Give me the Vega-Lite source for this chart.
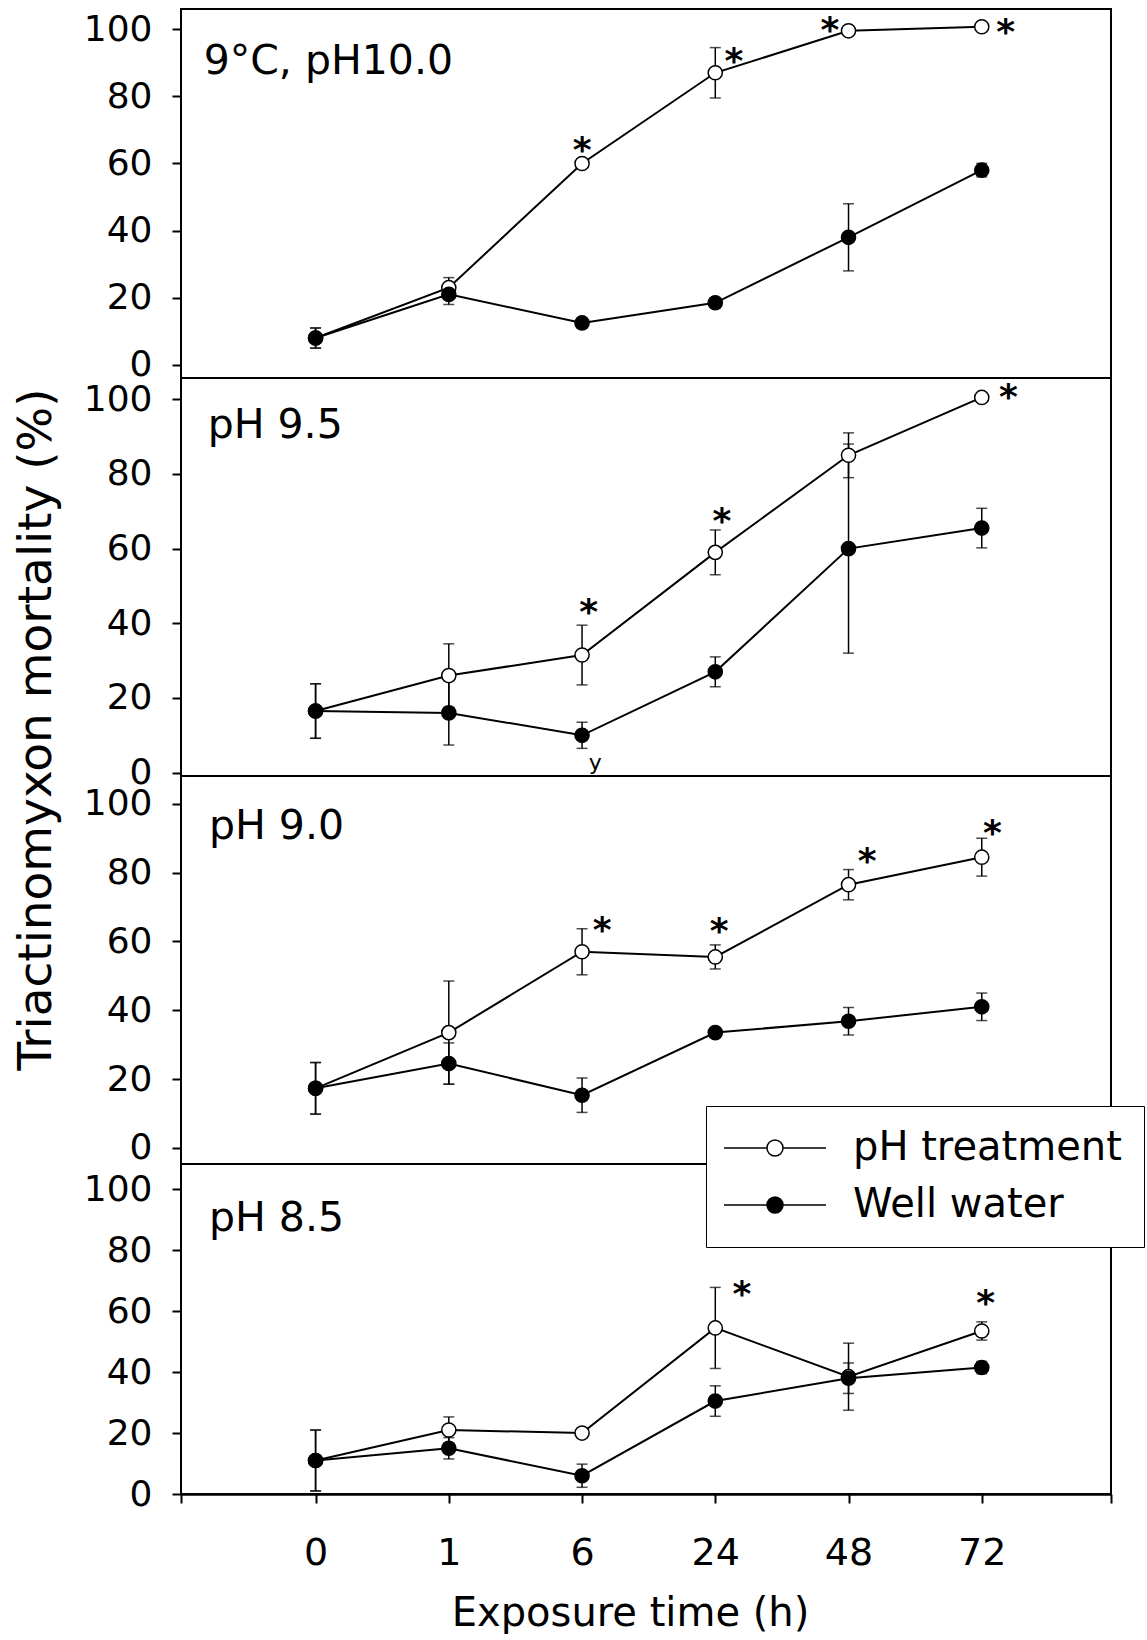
{
  "$schema": "https://vega.github.io/schema/vega-lite/v6.json",
  "padding": {"left": 10, "top": 8, "right": 0, "bottom": 0},
  "spacing": 0,
  "bounds": "flush",
  "config": {
    "font": "DejaVu Sans",
    "view": {"stroke": "black", "strokeWidth": 2},
    "axis": {"grid": false, "labelColor": "black", "tickColor": "black", "domainColor": "black", "titleColor": "black", "labelFont": "DejaVu Sans", "titleFont": "DejaVu Sans", "titleFontWeight": "normal"},
    "legend": {"labelFont": "DejaVu Sans", "labelColor": "black"}
  },
  "datasets": {
    "means": [
      {"panel": "9°C, pH10.0", "series": "pH treatment", "hour": "0", "pos": 0, "pct": 8, "se": 3},
      {"panel": "9°C, pH10.0", "series": "pH treatment", "hour": "1", "pos": 1, "pct": 23, "se": 3},
      {"panel": "9°C, pH10.0", "series": "pH treatment", "hour": "6", "pos": 2, "pct": 60, "se": 1},
      {"panel": "9°C, pH10.0", "series": "pH treatment", "hour": "24", "pos": 3, "pct": 87, "se": 7.5},
      {"panel": "9°C, pH10.0", "series": "pH treatment", "hour": "48", "pos": 4, "pct": 99.5, "se": 0.8},
      {"panel": "9°C, pH10.0", "series": "pH treatment", "hour": "72", "pos": 5, "pct": 100.7, "se": 0.5},
      {"panel": "9°C, pH10.0", "series": "Well water", "hour": "0", "pos": 0, "pct": 8, "se": 3},
      {"panel": "9°C, pH10.0", "series": "Well water", "hour": "1", "pos": 1, "pct": 21, "se": 3},
      {"panel": "9°C, pH10.0", "series": "Well water", "hour": "6", "pos": 2, "pct": 12.5, "se": 1.5},
      {"panel": "9°C, pH10.0", "series": "Well water", "hour": "24", "pos": 3, "pct": 18.5, "se": 1.5},
      {"panel": "9°C, pH10.0", "series": "Well water", "hour": "48", "pos": 4, "pct": 38, "se": 10},
      {"panel": "9°C, pH10.0", "series": "Well water", "hour": "72", "pos": 5, "pct": 58, "se": 2},
      {"panel": "pH 9.5", "series": "pH treatment", "hour": "0", "pos": 0, "pct": 16.5, "se": 7.3},
      {"panel": "pH 9.5", "series": "pH treatment", "hour": "1", "pos": 1, "pct": 26, "se": 8.5},
      {"panel": "pH 9.5", "series": "pH treatment", "hour": "6", "pos": 2, "pct": 31.5, "se": 8},
      {"panel": "pH 9.5", "series": "pH treatment", "hour": "24", "pos": 3, "pct": 59, "se": 6},
      {"panel": "pH 9.5", "series": "pH treatment", "hour": "48", "pos": 4, "pct": 85, "se": 6},
      {"panel": "pH 9.5", "series": "pH treatment", "hour": "72", "pos": 5, "pct": 100.5, "se": 0.7},
      {"panel": "pH 9.5", "series": "Well water", "hour": "0", "pos": 0, "pct": 16.5, "se": 7.3},
      {"panel": "pH 9.5", "series": "Well water", "hour": "1", "pos": 1, "pct": 16, "se": 8.6},
      {"panel": "pH 9.5", "series": "Well water", "hour": "6", "pos": 2, "pct": 10, "se": 3.5},
      {"panel": "pH 9.5", "series": "Well water", "hour": "24", "pos": 3, "pct": 27, "se": 4},
      {"panel": "pH 9.5", "series": "Well water", "hour": "48", "pos": 4, "pct": 60, "se": 28},
      {"panel": "pH 9.5", "series": "Well water", "hour": "72", "pos": 5, "pct": 65.5, "se": 5.3},
      {"panel": "pH 9.0", "series": "pH treatment", "hour": "0", "pos": 0, "pct": 17.3, "se": 7.5},
      {"panel": "pH 9.0", "series": "pH treatment", "hour": "1", "pos": 1, "pct": 33.5, "se": 15},
      {"panel": "pH 9.0", "series": "pH treatment", "hour": "6", "pos": 2, "pct": 57, "se": 6.7},
      {"panel": "pH 9.0", "series": "pH treatment", "hour": "24", "pos": 3, "pct": 55.5, "se": 3.5},
      {"panel": "pH 9.0", "series": "pH treatment", "hour": "48", "pos": 4, "pct": 76.5, "se": 4.4},
      {"panel": "pH 9.0", "series": "pH treatment", "hour": "72", "pos": 5, "pct": 84.5, "se": 5.5},
      {"panel": "pH 9.0", "series": "Well water", "hour": "0", "pos": 0, "pct": 17.3, "se": 7.5},
      {"panel": "pH 9.0", "series": "Well water", "hour": "1", "pos": 1, "pct": 24.5, "se": 6},
      {"panel": "pH 9.0", "series": "Well water", "hour": "6", "pos": 2, "pct": 15.3, "se": 5},
      {"panel": "pH 9.0", "series": "Well water", "hour": "24", "pos": 3, "pct": 33.5, "se": 0.8},
      {"panel": "pH 9.0", "series": "Well water", "hour": "48", "pos": 4, "pct": 36.8, "se": 4},
      {"panel": "pH 9.0", "series": "Well water", "hour": "72", "pos": 5, "pct": 41, "se": 4},
      {"panel": "pH 8.5", "series": "pH treatment", "hour": "0", "pos": 0, "pct": 11, "se": 10},
      {"panel": "pH 8.5", "series": "pH treatment", "hour": "1", "pos": 1, "pct": 21, "se": 4.3},
      {"panel": "pH 8.5", "series": "pH treatment", "hour": "6", "pos": 2, "pct": 20, "se": 1.5},
      {"panel": "pH 8.5", "series": "pH treatment", "hour": "24", "pos": 3, "pct": 54.5, "se": 13.3},
      {"panel": "pH 8.5", "series": "pH treatment", "hour": "48", "pos": 4, "pct": 38.5, "se": 11},
      {"panel": "pH 8.5", "series": "pH treatment", "hour": "72", "pos": 5, "pct": 53.5, "se": 3},
      {"panel": "pH 8.5", "series": "Well water", "hour": "0", "pos": 0, "pct": 11, "se": 10},
      {"panel": "pH 8.5", "series": "Well water", "hour": "1", "pos": 1, "pct": 15, "se": 3.5},
      {"panel": "pH 8.5", "series": "Well water", "hour": "6", "pos": 2, "pct": 6, "se": 3.8},
      {"panel": "pH 8.5", "series": "Well water", "hour": "24", "pos": 3, "pct": 30.5, "se": 5},
      {"panel": "pH 8.5", "series": "Well water", "hour": "48", "pos": 4, "pct": 38, "se": 5},
      {"panel": "pH 8.5", "series": "Well water", "hour": "72", "pos": 5, "pct": 41.5, "se": 2}
    ],
    "stars": [
      {"panel": "9°C, pH10.0", "pos": 2.0, "pct": 66.4},
      {"panel": "9°C, pH10.0", "pos": 3.14, "pct": 93},
      {"panel": "9°C, pH10.0", "pos": 3.86, "pct": 102},
      {"panel": "9°C, pH10.0", "pos": 5.18, "pct": 101.6},
      {"panel": "pH 9.5", "pos": 2.05, "pct": 45.1},
      {"panel": "pH 9.5", "pos": 3.05, "pct": 69.6},
      {"panel": "pH 9.5", "pos": 5.2, "pct": 102.7},
      {"panel": "pH 9.0", "pos": 2.15, "pct": 65.6},
      {"panel": "pH 9.0", "pos": 3.03, "pct": 65.4},
      {"panel": "pH 9.0", "pos": 4.14, "pct": 85.8},
      {"panel": "pH 9.0", "pos": 5.08, "pct": 93.8},
      {"panel": "pH 8.5", "pos": 3.2, "pct": 68.3},
      {"panel": "pH 8.5", "pos": 5.03, "pct": 65.3}
    ],
    "labels": [
      {"panel": "9°C, pH10.0", "pos": -0.84, "pct": 86.6},
      {"panel": "pH 9.5", "pos": -0.81, "pct": 89.7},
      {"panel": "pH 9.0", "pos": -0.8, "pct": 89.7},
      {"panel": "pH 8.5", "pos": -0.8, "pct": 86.3}
    ]
  },
  "resolve": {"scale": {"y": "independent", "fill": "shared"}, "legend": {"fill": "shared"}},
  "vconcat": [
    {
      "width": 930, "height": 369,
      "encoding": {
        "x": {"field": "pos", "type": "quantitative", "scale": {"domain": [-1.01, 5.97], "nice": false, "zero": false}, "axis": null},
        "y": {"field": "pct", "type": "quantitative", "scale": {"domain": [-3.9, 106], "nice": false, "zero": false},
              "axis": {"values": [0, 20, 40, 60, 80, 100], "title": null, "domain": false, "tickSize": 9, "tickWidth": 2, "labelFontSize": 36, "labelPadding": 20}}
      },
      "layer": [
        {"data": {"name": "means"}, "transform": [{"filter": "datum.panel === '9°C, pH10.0'"}],
         "mark": {"type": "errorbar", "color": "black", "ticks": {"size": 11, "thickness": 1.5, "color": "black"}, "rule": {"strokeWidth": 1.5, "color": "black"}},
         "encoding": {"yError": {"field": "se"}}},
        {"data": {"name": "means"}, "transform": [{"filter": "datum.panel === '9°C, pH10.0'"}],
         "mark": {"type": "line", "color": "black", "strokeWidth": 2},
         "encoding": {"detail": {"field": "series"}}},
        {"data": {"name": "means"}, "transform": [{"filter": "datum.panel === '9°C, pH10.0'"}],
         "mark": {"type": "point", "shape": "circle", "filled": true, "size": 200, "stroke": "black", "strokeWidth": 1.5, "opacity": 1},
         "encoding": {"fill": {"field": "series", "type": "nominal", "scale": {"domain": ["pH treatment", "Well water"], "range": ["white", "black"]},
           "legend": {"title": null, "orient": "none", "legendX": 525, "legendY": 1097, "labelFontSize": 40, "labelLimit": 0, "labelOffset": 58,
             "symbolType": "M-6.375,0L-1,0M1,0L6.375,0M-1,0A1,1,0,1,1,1,0A1,1,0,1,1,-1,0Z",
             "symbolSize": 256, "symbolOffset": 27, "symbolStrokeColor": "black", "symbolStrokeWidth": 1.5, "symbolOpacity": 1,
             "strokeColor": "black", "fillColor": "white", "padding": 22, "rowPadding": 17}}}},
        {"data": {"name": "labels"}, "transform": [{"filter": "datum.panel === '9°C, pH10.0'"}],
         "mark": {"type": "text", "align": "left", "baseline": "alphabetic", "fontSize": 41, "color": "black"},
         "encoding": {"text": {"field": "panel"}}},
        {"data": {"name": "stars"}, "transform": [{"filter": "datum.panel === '9°C, pH10.0'"}],
         "mark": {"type": "text", "align": "center", "baseline": "alphabetic", "fontSize": 36, "fontWeight": "bold", "dy": 20, "color": "black"},
         "encoding": {"text": {"value": "*"}}}
      ]
    },
    {
      "width": 930, "height": 398,
      "encoding": {
        "x": {"field": "pos", "type": "quantitative", "scale": {"domain": [-1.01, 5.97], "nice": false, "zero": false}, "axis": null},
        "y": {"field": "pct", "type": "quantitative", "scale": {"domain": [-0.9, 105.7], "nice": false, "zero": false},
              "axis": {"values": [0, 20, 40, 60, 80, 100], "title": null, "domain": false, "tickSize": 9, "tickWidth": 2, "labelFontSize": 36, "labelPadding": 20}}
      },
      "layer": [
        {"data": {"name": "means"}, "transform": [{"filter": "datum.panel === 'pH 9.5'"}],
         "mark": {"type": "errorbar", "color": "black", "ticks": {"size": 11, "thickness": 1.5, "color": "black"}, "rule": {"strokeWidth": 1.5, "color": "black"}},
         "encoding": {"yError": {"field": "se"}}},
        {"data": {"name": "means"}, "transform": [{"filter": "datum.panel === 'pH 9.5'"}],
         "mark": {"type": "line", "color": "black", "strokeWidth": 2},
         "encoding": {"detail": {"field": "series"}}},
        {"data": {"name": "means"}, "transform": [{"filter": "datum.panel === 'pH 9.5'"}],
         "mark": {"type": "point", "shape": "circle", "filled": true, "size": 200, "stroke": "black", "strokeWidth": 1.5, "opacity": 1},
         "encoding": {"fill": {"field": "series", "type": "nominal", "scale": {"domain": ["pH treatment", "Well water"], "range": ["white", "black"]}}}},
        {"data": {"name": "labels"}, "transform": [{"filter": "datum.panel === 'pH 9.5'"}],
         "mark": {"type": "text", "align": "left", "baseline": "alphabetic", "fontSize": 41, "color": "black"},
         "encoding": {"text": {"field": "panel"}}},
        {"data": {"name": "stars"}, "transform": [{"filter": "datum.panel === 'pH 9.5'"}],
         "mark": {"type": "text", "align": "center", "baseline": "alphabetic", "fontSize": 36, "fontWeight": "bold", "dy": 20, "color": "black"},
         "encoding": {"text": {"value": "*"}}},
        {"data": {"values": [{"pos": 2.1, "pct": 2.5, "note": "y"}]},
         "mark": {"type": "text", "align": "center", "baseline": "middle", "fontSize": 22, "color": "black"},
         "encoding": {"text": {"field": "note"}}}
      ]
    },
    {
      "width": 930, "height": 388,
      "encoding": {
        "x": {"field": "pos", "type": "quantitative", "scale": {"domain": [-1.01, 5.97], "nice": false, "zero": false}, "axis": null},
        "y": {"field": "pct", "type": "quantitative", "scale": {"domain": [-4.7, 108.1], "nice": false, "zero": false},
              "axis": {"values": [0, 20, 40, 60, 80, 100], "title": "Triactinomyxon mortality (%)", "titleFontSize": 47, "titleX": -145, "titleY": -47, "titleAngle": 270, "titleAlign": "center", "titleBaseline": "middle",
                       "domain": false, "tickSize": 9, "tickWidth": 2, "labelFontSize": 36, "labelPadding": 20}}
      },
      "layer": [
        {"data": {"name": "means"}, "transform": [{"filter": "datum.panel === 'pH 9.0'"}],
         "mark": {"type": "errorbar", "color": "black", "ticks": {"size": 11, "thickness": 1.5, "color": "black"}, "rule": {"strokeWidth": 1.5, "color": "black"}},
         "encoding": {"yError": {"field": "se"}}},
        {"data": {"name": "means"}, "transform": [{"filter": "datum.panel === 'pH 9.0'"}],
         "mark": {"type": "line", "color": "black", "strokeWidth": 2},
         "encoding": {"detail": {"field": "series"}}},
        {"data": {"name": "means"}, "transform": [{"filter": "datum.panel === 'pH 9.0'"}],
         "mark": {"type": "point", "shape": "circle", "filled": true, "size": 200, "stroke": "black", "strokeWidth": 1.5, "opacity": 1},
         "encoding": {"fill": {"field": "series", "type": "nominal", "scale": {"domain": ["pH treatment", "Well water"], "range": ["white", "black"]}}}},
        {"data": {"name": "labels"}, "transform": [{"filter": "datum.panel === 'pH 9.0'"}],
         "mark": {"type": "text", "align": "left", "baseline": "alphabetic", "fontSize": 41, "color": "black"},
         "encoding": {"text": {"field": "panel"}}},
        {"data": {"name": "stars"}, "transform": [{"filter": "datum.panel === 'pH 9.0'"}],
         "mark": {"type": "text", "align": "center", "baseline": "alphabetic", "fontSize": 36, "fontWeight": "bold", "dy": 20, "color": "black"},
         "encoding": {"text": {"value": "*"}}}
      ]
    },
    {
      "width": 930, "height": 330,
      "encoding": {
        "x": {"field": "pos", "type": "quantitative", "scale": {"domain": [-1.01, 5.97], "nice": false, "zero": false},
              "axis": {"values": [-1.01, 0, 1, 2, 3, 4, 5, 5.97], "labelExpr": "['0','1','6','24','48','72'][datum.value] || ''", "labelFlush": false, "labelOverlap": false,
                       "title": "Exposure time (h)", "titleFontSize": 40, "titleX": 449, "titleY": 131, "titleAlign": "center", "titleBaseline": "alphabetic",
                       "domain": true, "domainWidth": 2.5, "tickSize": 9, "tickWidth": 2, "labelFontSize": 38, "labelPadding": 31}},
        "y": {"field": "pct", "type": "quantitative", "scale": {"domain": [0, 108.3], "nice": false, "zero": false},
              "axis": {"values": [0, 20, 40, 60, 80, 100], "title": null, "domain": false, "tickSize": 9, "tickWidth": 2, "labelFontSize": 36, "labelPadding": 20}}
      },
      "layer": [
        {"data": {"name": "means"}, "transform": [{"filter": "datum.panel === 'pH 8.5'"}],
         "mark": {"type": "errorbar", "color": "black", "ticks": {"size": 11, "thickness": 1.5, "color": "black"}, "rule": {"strokeWidth": 1.5, "color": "black"}},
         "encoding": {"yError": {"field": "se"}}},
        {"data": {"name": "means"}, "transform": [{"filter": "datum.panel === 'pH 8.5'"}],
         "mark": {"type": "line", "color": "black", "strokeWidth": 2},
         "encoding": {"detail": {"field": "series"}}},
        {"data": {"name": "means"}, "transform": [{"filter": "datum.panel === 'pH 8.5'"}],
         "mark": {"type": "point", "shape": "circle", "filled": true, "size": 200, "stroke": "black", "strokeWidth": 1.5, "opacity": 1},
         "encoding": {"fill": {"field": "series", "type": "nominal", "scale": {"domain": ["pH treatment", "Well water"], "range": ["white", "black"]}}}},
        {"data": {"name": "labels"}, "transform": [{"filter": "datum.panel === 'pH 8.5'"}],
         "mark": {"type": "text", "align": "left", "baseline": "alphabetic", "fontSize": 41, "color": "black"},
         "encoding": {"text": {"field": "panel"}}},
        {"data": {"name": "stars"}, "transform": [{"filter": "datum.panel === 'pH 8.5'"}],
         "mark": {"type": "text", "align": "center", "baseline": "alphabetic", "fontSize": 36, "fontWeight": "bold", "dy": 20, "color": "black"},
         "encoding": {"text": {"value": "*"}}}
      ]
    }
  ]
}
